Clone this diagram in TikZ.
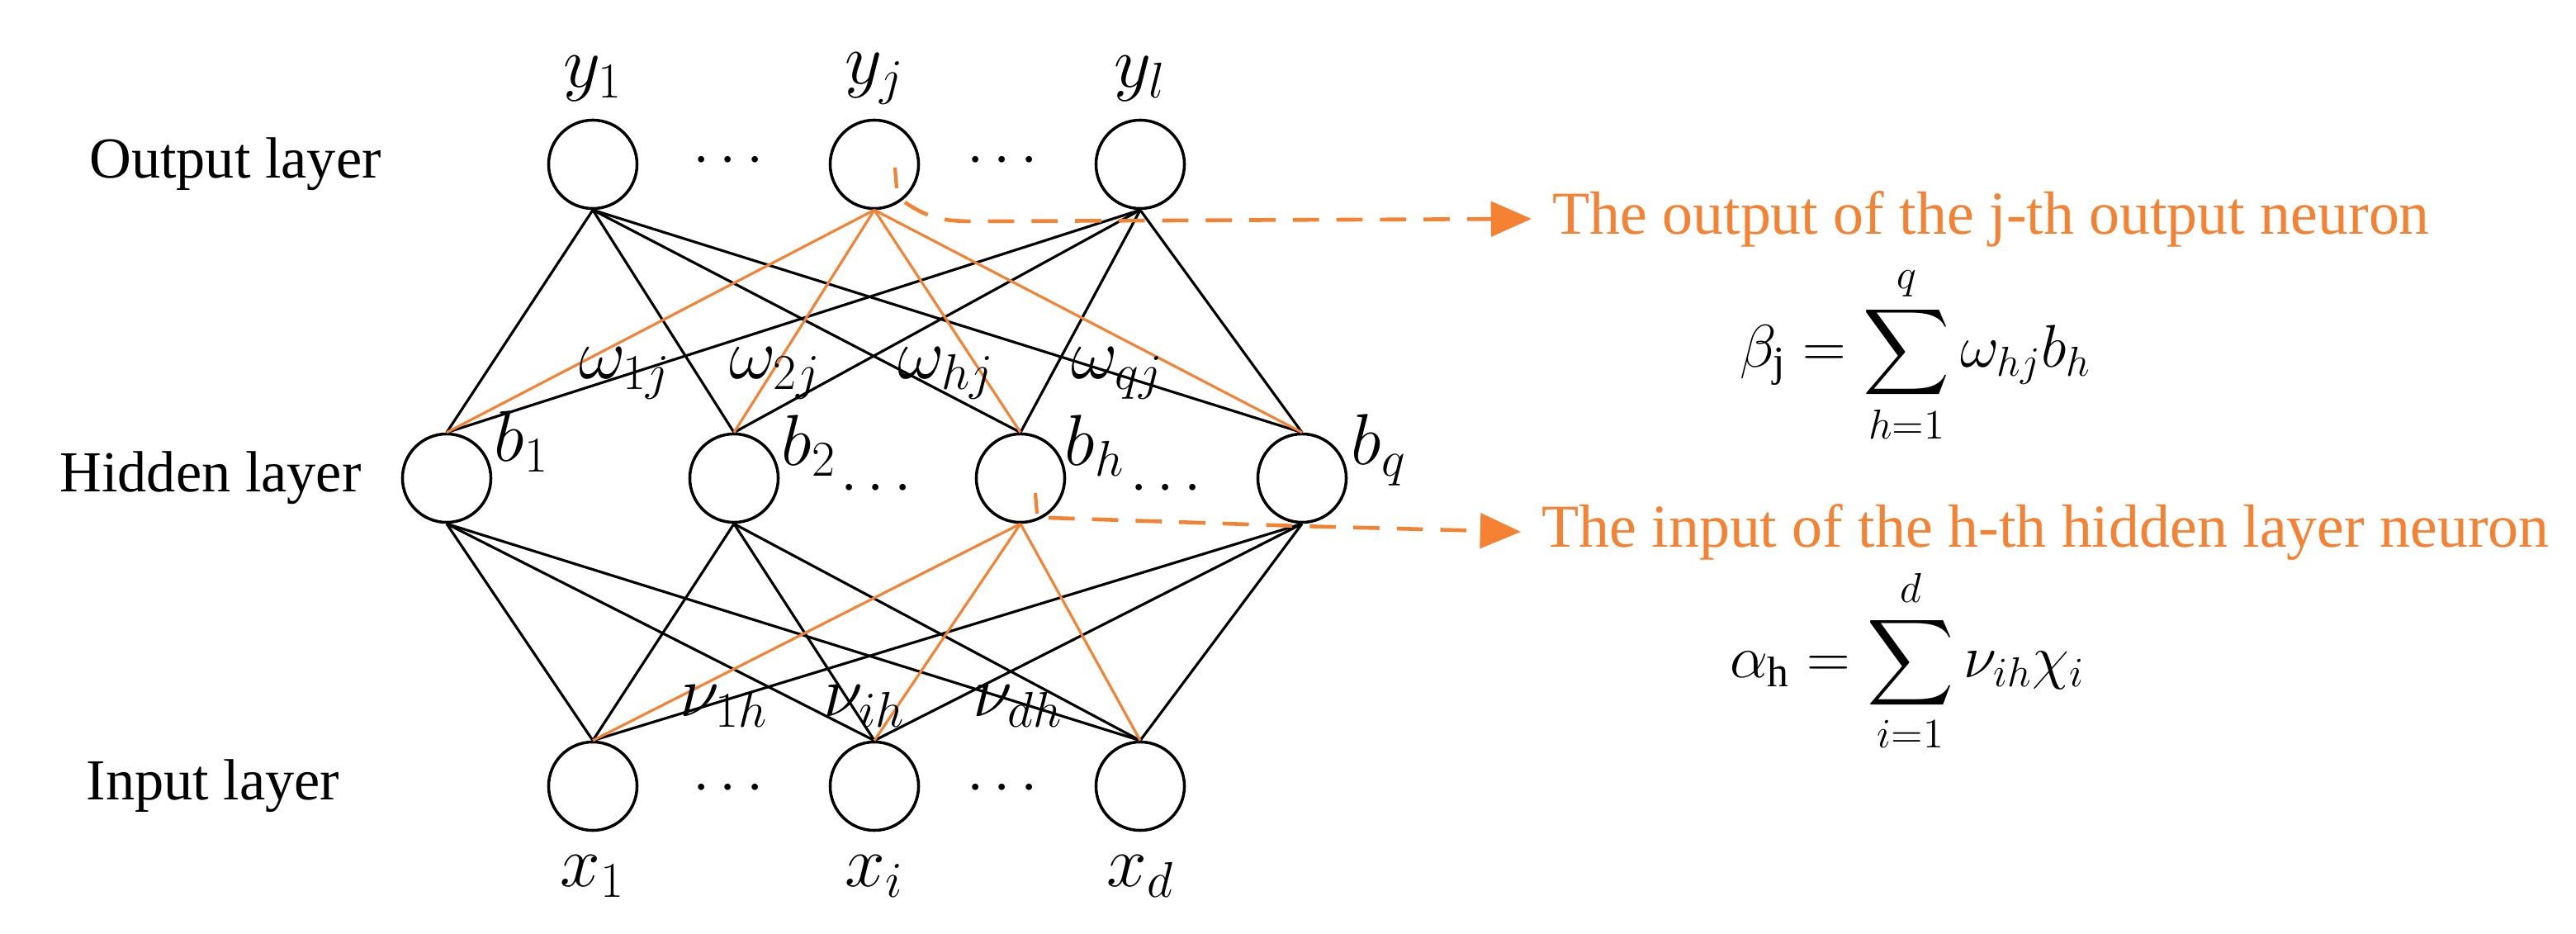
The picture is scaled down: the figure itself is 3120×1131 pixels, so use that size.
\documentclass[tikz,border=0pt]{standalone}
\usepackage{amsmath}
\usepackage{fontspec}
\setmainfont{Liberation Serif}
\usetikzlibrary{arrows.meta}
\definecolor{org}{RGB}{245,130,50}
\begin{document}
\fontsize{21}{25}\selectfont
\begin{tikzpicture}[x=0.01cm,y=-0.01cm,
  neu/.style={circle,draw,line width=1pt,minimum size=1.07cm,inner sep=0pt},
  blk/.style={line width=0.9pt},
  orl/.style={draw=org,line width=0.9pt},
  lay/.style={font=\fontsize{20}{24}\selectfont},
  lab/.style={font=\fontsize{24}{28}\selectfont},
  wl/.style={font=\fontsize{24}{28}\selectfont},
  ann/.style={text=org,font=\fontsize{21}{25}\selectfont,anchor=west},
  dsh/.style={draw=org,line width=1.3pt,dash pattern=on 9pt off 6pt},
  dots/.style={font=\fontsize{22}{26}\selectfont}]
\useasboundingbox (0,0) rectangle (3120,1131);
% nodes
\node[neu] (y1) at (718,199) {};
\node[neu] (yj) at (1059,199) {};
\node[neu] (yl) at (1381,199) {};
\node[neu] (b1) at (541,579) {};
\node[neu] (b2) at (889,579) {};
\node[neu] (bh) at (1236,579) {};
\node[neu] (bq) at (1577,579) {};
\node[neu] (x1) at (718,952) {};
\node[neu] (xi) at (1059,952) {};
\node[neu] (xd) at (1381,952) {};
% dots
\node[dots] (d1) at (888,195) {$\cdots$};
\node[dots] (d2) at (1220,195) {$\cdots$};
\node[dots] (d3) at (1067,592) {$\cdots$};
\node[dots] (d4) at (1418,592) {$\cdots$};
\node[dots] (d5) at (888,955) {$\cdots$};
\node[dots] (d6) at (1220,955) {$\cdots$};
% layer labels
\node[lay] (lo) at (285,199) {Output layer};
\node[lay] (lh) at (255,579) {Hidden layer};
\node[lay] (li) at (258,952) {Input layer};
% edges top
\foreach \b in {b1,b2,bh,bq}{
  \draw[blk] (y1.south) -- (\b.north);
  \draw[blk] (yl.south) -- (\b.north);
}
\foreach \b in {b1,b2,bh,bq}{
  \draw[orl] (yj.south) -- (\b.north);
}
% edges bottom
\foreach \x in {x1,xi,xd}{
  \draw[blk] (b1.south) -- (\x.north);
  \draw[blk] (b2.south) -- (\x.north);
  \draw[blk] (bq.south) -- (\x.north);
}
\foreach \x in {x1,xi,xd}{
  \draw[orl] (bh.south) -- (\x.north);
}
% neuron labels
\node[lab] (ly1) at (718,95) {$y_1$};
\node[lab] (lyj) at (1059,95) {$y_j$};
\node[lab] (lyl) at (1381,95) {$y_l$};
\node[lab] (lb1) at (632,535) {$b_1$};
\node[lab] (lb2) at (980,540) {$b_2$};
\node[lab] (lbh) at (1326,540) {$b_h$};
\node[lab] (lbq) at (1670,545) {$b_q$};
\node[lab] (lx1) at (718,1061) {$x_1$};
\node[lab] (lxi) at (1059,1061) {$x_i$};
\node[lab] (lxd) at (1381,1061) {$x_d$};
% weight labels
\node[wl] (w1) at (757,452) {$\omega_{1j}$};
\node[wl] (w2) at (939,452) {$\omega_{2j}$};
\node[wl] (wh) at (1146,452) {$\omega_{hj}$};
\node[wl] (wq) at (1353,452) {$\omega_{qj}$};
\node[wl] (v1) at (877,855) {$\nu_{1h}$};
\node[wl] (vi) at (1047,855) {$\nu_{ih}$};
\node[wl] (vd) at (1233,855) {$\nu_{dh}$};
% annotations
\node[ann] (t1) at (1855,265) {The output of the j-th output neuron};
\node[ann] (t2) at (1842,644) {The input of the h-th hidden layer neuron};
\coordinate (s1) at (1084,203);
\coordinate (s2) at (1254,597);
\draw[org,line width=1.2pt] (s1) -- ++(2,25);
\draw[org,line width=1.2pt] (s2) -- ++(2,25);
\draw[dsh,-{Triangle[length=14pt,width=12pt]}] (1096,245) .. controls (1130,268) and (1150,268) .. (1190,268) -- (t1.west);
\draw[dsh,-{Triangle[length=14pt,width=12pt]}] (1270,627) -- (1573,637) -- (t2.west);
% formulas
\node (f1) at (2320,430) {\fontsize{21}{25}\selectfont$\displaystyle\beta_{\mathrm{j}}=\sum_{h=1}^{q}\omega_{hj}b_h$};
\node (f2) at (2310,800) {\fontsize{21}{25}\selectfont$\displaystyle\alpha_{\mathrm{h}}=\sum_{i=1}^{d}\nu_{ih}\chi_i$};
\end{tikzpicture}
\end{document}
